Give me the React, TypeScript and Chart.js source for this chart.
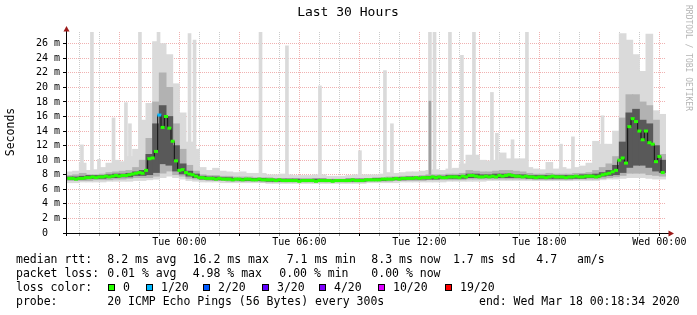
import React, { useEffect, useRef } from "react";
import { Chart, registerables } from "chart.js";

Chart.register(...registerables);

// ---------- axis settings (hours relative to Tue 00:00) ----------
const AXIS_START = -5.6667;
const AXIS_END = 24.3333;
const Y_MAX = 27.6;
const MEDIAN_START = -5.5; // first 10-minute median sample
const MEDIAN_STEP = 1 / 6;
const SMOKE_START = -5.5; // first 20-minute smoke column
const SMOKE_STEP = 1 / 3;

// ---------- median rtt (ms), one value per 10 minutes, one row per hour ----------
const medianRtt = [
  7.5, 7.5, 7.4, 7.5, 7.5, 7.6,
  7.6, 7.7, 7.6, 7.7, 7.7, 7.8,
  7.7, 7.8, 7.9, 7.8, 7.9, 7.9,
  8.0, 8.1, 8.2, 8.3, 8.2, 8.6,
  10.2, 10.3, 11.2, 16.2, 14.5, 16.0,
  14.4, 12.6, 9.9, 8.6, 8.7, 8.3,
  8.1, 8.0, 7.8, 7.6, 7.6, 7.5,
  7.5, 7.5, 7.4, 7.5, 7.4, 7.4,
  7.4, 7.3, 7.4, 7.4, 7.3, 7.4,
  7.4, 7.3, 7.3, 7.4, 7.3, 7.3,
  7.3, 7.3, 7.2, 7.3, 7.2, 7.2,
  7.2, 7.2, 7.2, 7.1, 7.2, 7.2,
  7.2, 7.2, 7.1, 7.2, 7.2, 7.2,
  7.2, 7.1, 7.2, 7.2, 7.2, 7.2,
  7.2, 7.3, 7.2, 7.2, 7.2, 7.3,
  7.3, 7.3, 7.3, 7.3, 7.4, 7.4,
  7.4, 7.4, 7.5, 7.4, 7.5, 7.5,
  7.5, 7.5, 7.6, 7.5, 7.6, 7.6,
  7.6, 7.7, 7.6, 7.7, 7.6, 7.6,
  7.7, 7.7, 7.7, 7.6, 7.8, 7.7,
  7.9, 7.9, 7.8, 7.7, 7.7, 7.8,
  7.7, 7.8, 7.7, 7.9, 7.8, 7.9,
  8.0, 7.9, 7.8, 7.8, 7.7, 7.8,
  7.7, 7.7, 7.6, 7.7, 7.7, 7.6,
  7.7, 7.8, 7.7, 7.7, 7.7, 7.6,
  7.7, 7.7, 7.8, 7.7, 7.7, 7.8,
  7.8, 7.8, 7.7, 7.8, 8.0, 8.1,
  8.2, 8.4, 8.6, 10.0, 10.3, 9.6,
  14.6, 15.7, 15.3, 14.0, 12.8, 14.0,
  12.4, 12.2, 9.8, 10.5, 8.3,
];

// samples that lost packets (hour, lost pings of 20)
const lossHours = [-1.0];
const lossCounts = [1];

// ---------- smoke (ms), one column per 20 minutes, two hours per row ----------
const lightLo = [
  6.9, 6.9, 7.0, 7.0, 7.0, 7.0,
  7.1, 7.1, 7.1, 7.1, 7.2, 7.2,
  7.3, 7.4, 7.6, 7.8, 7.6, 7.4,
  7.2, 7.1, 7.0, 7.0, 7.0, 6.9,
  6.9, 6.9, 6.9, 6.9, 6.9, 6.9,
  6.8, 6.8, 6.8, 6.8, 6.8, 6.8,
  6.8, 6.8, 6.8, 6.8, 6.8, 6.8,
  6.8, 6.8, 6.8, 6.9, 6.9, 6.9,
  6.9, 6.9, 7.0, 7.0, 7.0, 7.0,
  7.0, 7.0, 7.0, 7.1, 7.1, 7.1,
  7.1, 7.1, 7.1, 7.2, 7.2, 7.2,
  7.2, 7.2, 7.2, 7.2, 7.2, 7.2,
  7.2, 7.2, 7.2, 7.2, 7.2, 7.2,
  7.2, 7.2, 7.3, 7.4, 7.4, 7.5,
  7.6, 7.6, 7.6, 7.5, 7.4, 7.4,
];
const lightHi = [
  8.4, 8.5, 9.6, 8.6, 8.7, 9.0,
  9.6, 10.0, 9.8, 10.5, 11.5, 15.5,
  17.8, 26.3, 26.0, 24.5, 20.5, 16.5,
  12.5, 11.5, 9.0, 8.6, 8.9, 8.5,
  8.4, 8.3, 8.4, 8.2, 8.2, 8.2,
  8.0, 8.0, 8.1, 8.0, 7.9, 7.9,
  7.9, 8.0, 8.0, 7.8, 7.8, 7.8,
  7.9, 8.0, 8.0, 8.0, 8.0, 8.1,
  8.3, 8.2, 8.3, 8.4, 8.4, 8.5,
  8.6, 8.7, 8.6, 8.8, 8.9, 9.5,
  10.7, 10.7, 10.0, 9.9, 10.0, 11.0,
  10.2, 10.2, 10.2, 9.0, 8.8, 8.7,
  9.7, 8.8, 9.0, 8.8, 9.0, 9.2,
  9.6, 12.6, 12.2, 12.2, 14.0, 27.4,
  26.5, 24.5, 22.2, 27.3, 16.8, 16.3,
];
const midLo = [
  7.2, 7.2, 7.2, 7.2, 7.3, 7.3,
  7.3, 7.4, 7.4, 7.5, 7.6, 7.6,
  7.6, 7.8, 8.2, 8.5, 8.0, 7.8,
  7.5, 7.4, 7.3, 7.2, 7.2, 7.2,
  7.1, 7.1, 7.1, 7.1, 7.1, 7.0,
  7.0, 7.0, 7.0, 7.0, 7.0, 7.0,
  7.0, 7.0, 7.0, 7.0, 7.0, 7.0,
  7.0, 7.0, 7.0, 7.1, 7.1, 7.1,
  7.1, 7.2, 7.2, 7.2, 7.2, 7.2,
  7.3, 7.3, 7.3, 7.3, 7.3, 7.3,
  7.4, 7.4, 7.4, 7.4, 7.4, 7.4,
  7.4, 7.4, 7.4, 7.4, 7.3, 7.3,
  7.3, 7.3, 7.3, 7.3, 7.4, 7.4,
  7.4, 7.4, 7.5, 7.6, 7.7, 7.9,
  8.2, 8.2, 8.2, 8.0, 7.9, 7.8,
];
const midHi = [
  7.9, 8.0, 8.2, 8.0, 8.0, 8.1,
  8.3, 8.4, 8.5, 8.6, 9.0, 10.0,
  13.0, 18.0, 22.0, 20.0, 15.0, 11.5,
  9.3, 8.5, 8.0, 7.9, 7.9, 7.8,
  7.8, 7.7, 7.7, 7.7, 7.6, 7.6,
  7.6, 7.5, 7.5, 7.5, 7.5, 7.5,
  7.5, 7.5, 7.5, 7.4, 7.4, 7.4,
  7.5, 7.5, 7.5, 7.5, 7.6, 7.6,
  7.7, 7.7, 7.8, 7.8, 7.8, 7.9,
  8.0, 8.0, 8.0, 8.1, 8.1, 8.2,
  8.6, 8.5, 8.4, 8.4, 8.5, 8.6,
  8.6, 8.5, 8.4, 8.2, 8.1, 8.1,
  8.2, 8.1, 8.1, 8.1, 8.2, 8.2,
  8.3, 8.6, 9.0, 9.5, 10.5, 15.8,
  19.0, 19.0, 18.0, 17.5, 15.5, 10.8,
];
const darkLo = [
  7.4, 7.4, 7.4, 7.5, 7.5, 7.5,
  7.6, 7.6, 7.7, 7.7, 7.9, 7.9,
  8.0, 8.3, 9.5, 9.3, 8.5, 8.1,
  7.8, 7.6, 7.4, 7.4, 7.3, 7.3,
  7.3, 7.3, 7.2, 7.2, 7.2, 7.2,
  7.1, 7.1, 7.1, 7.1, 7.1, 7.1,
  7.1, 7.1, 7.1, 7.1, 7.1, 7.1,
  7.1, 7.1, 7.1, 7.2, 7.2, 7.2,
  7.3, 7.3, 7.3, 7.4, 7.4, 7.4,
  7.4, 7.4, 7.5, 7.5, 7.5, 7.5,
  7.6, 7.6, 7.6, 7.6, 7.6, 7.6,
  7.6, 7.6, 7.6, 7.5, 7.5, 7.5,
  7.5, 7.5, 7.5, 7.5, 7.5, 7.5,
  7.6, 7.6, 7.8, 7.9, 8.0, 8.3,
  9.0, 9.3, 9.3, 9.0, 8.5, 8.3,
];
const darkHi = [
  7.7, 7.7, 7.8, 7.9, 7.9, 7.9,
  8.0, 8.1, 8.1, 8.2, 8.4, 8.6,
  10.8, 15.0, 17.5, 16.0, 12.0, 9.5,
  8.5, 8.1, 7.8, 7.7, 7.7, 7.6,
  7.6, 7.5, 7.5, 7.5, 7.5, 7.5,
  7.4, 7.4, 7.4, 7.4, 7.4, 7.3,
  7.3, 7.4, 7.4, 7.3, 7.3, 7.3,
  7.4, 7.4, 7.4, 7.4, 7.5, 7.5,
  7.5, 7.6, 7.6, 7.7, 7.7, 7.7,
  7.8, 7.8, 7.8, 7.9, 7.9, 7.9,
  8.1, 8.1, 8.0, 8.0, 8.1, 8.1,
  8.1, 8.0, 8.0, 7.9, 7.9, 7.9,
  7.9, 7.9, 7.9, 7.9, 7.9, 8.0,
  8.0, 8.1, 8.3, 8.6, 9.3, 12.5,
  16.5, 17.0, 15.5, 15.0, 12.0, 10.0,
];

// isolated high pings (hour, top in ms)
const spikeHours = [
  -4.87, -4.37, -4.02, -3.29, -2.67, -2.47, -1.97, -1.04, 0.51, 0.76,
  4.06, 5.38, 7.03, 9.03, 10.28, 10.63, 12.53, 12.76, 13.53, 14.13,
  14.73, 15.63, 15.88, 16.66, 17.38, 19.08, 19.68, 21.16,
];
const spikeTops = [
  12.1, 27.6, 10.1, 15.8, 17.9, 15.0, 27.6, 27.6, 27.4, 26.5,
  27.6, 25.7, 20.2, 11.3, 22.3, 15.0, 27.6, 27.6, 27.6, 24.4,
  27.6, 19.3, 13.7, 12.8, 27.6, 12.2, 13.2, 16.1,
];
const SPIKE_FLOOR = 7.6;
const midSpikeHours = [12.53];
const midSpikeTops = [18.1];

// ---------- legend texts ----------
const rttStats = ["8.2 ms avg", "16.2 ms max", "7.1 ms min", "8.3 ms now", "1.7 ms sd", "4.7", "am/s"];
const lossStats = ["0.01 % avg", "4.98 % max", "0.00 % min", "0.00 % now"];
const lossLabels = ["0", "1/20", "2/20", "3/20", "4/20", "10/20", "19/20"];
const lossColors = ["#26ff00", "#00b8ff", "#0059ff", "#5e00ff", "#7e00ff", "#dd00ff", "#ff0000"];
const lossLevels = [0, 1, 2, 3, 4, 10, 19];

const MONO = '"DejaVu Sans Mono", monospace';
const GRID_MAJOR = "rgba(220, 70, 70, 0.42)";
const GRID_MINOR = "rgba(130, 130, 130, 0.42)";

function lossColorFor(count: number) {
  let c = lossColors[0];
  for (let k = 0; k < lossLevels.length; k++) if (count >= lossLevels[k]) c = lossColors[k];
  return c;
}

const decorPlugin = {
  id: "decor",
  afterDraw(chart: any) {
    const { ctx } = chart;
    const { left, right, top, bottom } = chart.chartArea;
    ctx.save();
    ctx.setLineDash([]);
    // axes
    ctx.strokeStyle = "#000";
    ctx.lineWidth = 1;
    ctx.beginPath();
    ctx.moveTo(left - 3, bottom + 0.5);
    ctx.lineTo(right + 3, bottom + 0.5);
    ctx.moveTo(left + 0.5, bottom + 3);
    ctx.lineTo(left + 0.5, top - 1);
    ctx.stroke();
    // arrows
    ctx.fillStyle = "#9c1a1a";
    ctx.beginPath();
    ctx.moveTo(left + 0.5, top - 6);
    ctx.lineTo(left + 3.5, top - 0.5);
    ctx.lineTo(left - 2.5, top - 0.5);
    ctx.closePath();
    ctx.fill();
    ctx.beginPath();
    ctx.moveTo(right + 8, bottom + 0.5);
    ctx.lineTo(right + 2.5, bottom - 2.5);
    ctx.lineTo(right + 2.5, bottom + 3.5);
    ctx.closePath();
    ctx.fill();

    ctx.fillStyle = "#000";
    // title
    ctx.font = `13px ${MONO}`;
    ctx.textAlign = "center";
    ctx.textBaseline = "middle";
    ctx.fillText("Last 30 Hours", 348, 13);
    // y title
    ctx.font = `11.5px ${MONO}`;
    ctx.save();
    ctx.translate(11, 132);
    ctx.rotate(-Math.PI / 2);
    ctx.fillText("Seconds", 0, 0);
    ctx.restore();
    // watermark
    ctx.save();
    ctx.fillStyle = "#b4b4b4";
    ctx.font = `8px ${MONO}`;
    ctx.translate(688, 5);
    ctx.rotate(Math.PI / 2);
    ctx.textAlign = "left";
    ctx.fillText("RRDTOOL / TOBI OETIKER", 0, 0);
    ctx.restore();

    // legend rows
    ctx.font = `11.5px ${MONO}`;
    ctx.textAlign = "left";
    ctx.textBaseline = "alphabetic";
    ctx.fillStyle = "#000";
    const rttX = [107.3, 192.7, 286.7, 371.3, 453, 536.3, 577];
    ctx.fillText("median rtt:", 16, 263);
    rttStats.forEach((t, k) => ctx.fillText(t, rttX[k], 263));
    const lossX = [107.3, 192.7, 279.3, 371.3];
    ctx.fillText("packet loss:", 16, 277);
    lossStats.forEach((t, k) => ctx.fillText(t, lossX[k], 277));
    ctx.fillText("loss color:", 16, 291);
    const boxX = [108, 146, 203, 262, 319, 378, 445];
    lossLabels.forEach((t, k) => {
      ctx.fillStyle = lossColors[k];
      ctx.fillRect(boxX[k], 284, 7, 7);
      ctx.strokeStyle = "#000";
      ctx.strokeRect(boxX[k] + 0.5, 284.5, 6, 6);
      ctx.fillStyle = "#000";
      ctx.fillText(t, boxX[k] + 15, 291);
    });
    ctx.fillText("probe:", 16, 305);
    ctx.fillText("20 ICMP Echo Pings (56 Bytes) every 300s", 107.3, 305);
    ctx.fillText("end: Wed Mar 18 00:18:34 2020", 479, 305);
    ctx.restore();
  },
};

export default function App() {
  const ref = useRef<HTMLCanvasElement>(null);

  useEffect(() => {
    const canvas = ref.current;
    if (!canvas) return;

    const medianHour = (i: number) => MEDIAN_START + i * MEDIAN_STEP;
    const smokeHour = (j: number) => SMOKE_START + j * SMOKE_STEP;
    const band = (lo: number[], hi: number[]) => lo.map((v, j) => ({ x: smokeHour(j), y: [v, hi[j]] }));
    const medianPts = medianRtt.map((v, i) => ({ x: medianHour(i), y: v }));
    const pointColors = medianRtt.map((_, i) => {
      const h = medianHour(i);
      const k = lossHours.findIndex((lh) => Math.abs(lh - h) < 0.01);
      return lossColorFor(k >= 0 ? lossCounts[k] : 0);
    });

    const xTicks: number[] = [];
    for (let h = Math.ceil(AXIS_START); h <= Math.floor(AXIS_END); h++) xTicks.push(h);
    const yTicks: number[] = [];
    for (let v = 0; v <= Math.floor(Y_MAX); v++) yTicks.push(v);

    const dayName = (h: number) => (h < 24 ? "Tue" : "Wed");
    const hh = (h: number) => String(((h % 24) + 24) % 24).padStart(2, "0");

    const chart = new Chart(canvas, {
      type: "bar",
      data: {
        datasets: [
          {
            type: "line",
            data: medianPts,
            showLine: false,
            pointStyle: "line",
            pointRadius: 2,
            pointBorderWidth: 3,
            pointBorderColor: pointColors,
            pointBackgroundColor: pointColors,
            order: 0,
          } as any,
          {
            type: "line",
            data: medianPts,
            stepped: "middle",
            borderColor: "#101010",
            borderWidth: 1,
            pointRadius: 0,
            order: 1,
          } as any,
          {
            data: band(darkLo, darkHi),
            backgroundColor: "#595959",
            barThickness: 7,
            grouped: false,
            order: 2,
          } as any,
          {
            data: band(midLo, midHi),
            backgroundColor: "#b2b2b2",
            barThickness: 7,
            grouped: false,
            order: 3,
          } as any,
          {
            data: midSpikeHours.map((h, k) => ({ x: h, y: [7.8, midSpikeTops[k]] })),
            backgroundColor: "#a0a0a0",
            barThickness: 2,
            grouped: false,
            order: 4,
          } as any,
          {
            data: spikeHours.map((h, k) => ({ x: h, y: [SPIKE_FLOOR, spikeTops[k]] })),
            backgroundColor: "#dadada",
            barThickness: 3,
            grouped: false,
            order: 5,
          } as any,
          {
            data: band(lightLo, lightHi),
            backgroundColor: "#dadada",
            barThickness: 7,
            grouped: false,
            order: 6,
          } as any,
        ],
      },
      options: {
        responsive: false,
        devicePixelRatio: 1,
        animation: false,
        events: [],
        layout: { padding: { top: 32, right: 31, left: 0, bottom: 0 } },
        plugins: { legend: { display: false }, tooltip: { enabled: false }, title: { display: false } },
        scales: {
          x: {
            type: "linear",
            min: AXIS_START,
            max: AXIS_END,
            offset: false,
            z: 1,
            afterBuildTicks: (axis: any) => {
              axis.ticks = xTicks.map((v) => ({ value: v }));
            },
            afterFit: (axis: any) => {
              axis.height = 82;
            },
            grid: {
              offset: false,
              lineWidth: 1,
              tickLength: 3,
              color: (c: any) => (c.tick && c.tick.value % 3 === 0 ? GRID_MAJOR : GRID_MINOR),
              tickColor: (c: any) => (c.tick && c.tick.value % 3 === 0 ? "#000" : "#9a9a9a"),
            },
            border: { display: false, dash: [1, 1] },
            ticks: {
              autoSkip: false,
              maxRotation: 0,
              minRotation: 0,
              padding: 0,
              color: "#000",
              font: { family: MONO, size: 10 },
              callback: (v: any) => {
                const h = Number(v);
                return h % 6 === 0 ? `${dayName(h)} ${hh(h)}:00` : "";
              },
            },
          },
          y: {
            type: "linear",
            min: 0,
            max: Y_MAX,
            z: 1,
            afterBuildTicks: (axis: any) => {
              axis.ticks = yTicks.map((v) => ({ value: v }));
            },
            afterFit: (axis: any) => {
              axis.width = 66;
            },
            grid: {
              lineWidth: 1,
              tickLength: 3,
              color: (c: any) => (c.tick && c.tick.value % 2 === 0 ? GRID_MAJOR : GRID_MINOR),
              tickColor: (c: any) => (c.tick && c.tick.value % 2 === 0 ? "#000" : "#9a9a9a"),
            },
            border: { display: false, dash: [1, 1] },
            ticks: {
              padding: 3,
              color: "#000",
              font: { family: MONO, size: 10 },
              callback: (v: any) => {
                const n = Number(v);
                if (n % 2 !== 0) return "";
                return n === 0 ? "0  " : `${n} m`;
              },
            },
          },
        },
      } as any,
      plugins: [decorPlugin],
    });

    return () => chart.destroy();
  }, []);

  return (
    <div style={{ position: "absolute", left: 0, top: 0, width: 697, height: 315, background: "#ffffff" }}>
      <canvas ref={ref} width={697} height={315} style={{ display: "block", width: "697px", height: "315px" }} />
    </div>
  );
}
